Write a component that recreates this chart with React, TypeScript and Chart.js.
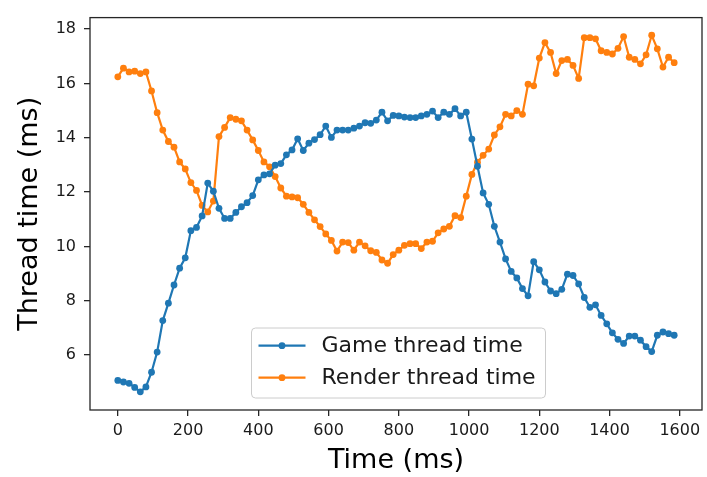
import React, { useEffect, useRef } from "react";
import { Chart, registerables } from "chart.js";

Chart.register(...registerables);

// ---- data ----
const timeMs = [
  0, 16, 32, 48, 64, 80, 96, 112, 128, 144,
  160, 176, 192, 208, 224, 240, 256, 272, 288, 304,
  320, 336, 352, 368, 384, 400, 416, 432, 448, 464,
  480, 496, 512, 528, 544, 560, 576, 592, 608, 624,
  640, 656, 672, 688, 704, 720, 736, 752, 768, 784,
  800, 816, 832, 848, 864, 880, 896, 912, 928, 944,
  960, 976, 992, 1008, 1024, 1040, 1056, 1072, 1088, 1104,
  1120, 1136, 1152, 1168, 1184, 1200, 1216, 1232, 1248, 1264,
  1280, 1296, 1312, 1328, 1344, 1360, 1376, 1392, 1408, 1424,
  1440, 1456, 1472, 1488, 1504, 1520, 1536, 1552, 1568, 1584,
];

const gameThread = [
  5.07, 5.01, 4.96, 4.81, 4.65, 4.83, 5.37, 6.11, 7.27, 7.91,
  8.58, 9.2, 9.58, 10.58, 10.7, 11.12, 12.33, 12.03, 11.4, 11.03,
  11.03, 11.25, 11.46, 11.61, 11.87, 12.45, 12.63, 12.67, 12.99, 13.05,
  13.37, 13.55, 13.96, 13.53, 13.8, 13.93, 14.11, 14.43, 14.01, 14.28,
  14.28, 14.28, 14.35, 14.43, 14.55, 14.53, 14.65, 14.94, 14.62, 14.82,
  14.8, 14.76, 14.74, 14.74, 14.8, 14.86, 14.98, 14.74, 14.94, 14.86,
  15.07, 14.8, 14.94, 13.95, 12.95, 11.97, 11.55, 10.74, 10.16, 9.54,
  9.08, 8.84, 8.45, 8.18, 9.44, 9.14, 8.69, 8.36, 8.26, 8.42,
  8.98, 8.93, 8.62, 8.12, 7.76, 7.85, 7.46, 7.15, 6.82, 6.58,
  6.43, 6.7, 6.7, 6.55, 6.31, 6.13, 6.73, 6.85, 6.79, 6.73,
];

const renderThread = [
  16.24, 16.56, 16.42, 16.45, 16.36, 16.42, 15.72, 14.92, 14.28, 13.86,
  13.65, 13.11, 12.85, 12.35, 12.06, 11.51, 11.27, 11.67, 14.04, 14.38,
  14.74, 14.68, 14.62, 14.28, 13.92, 13.53, 13.11, 12.93, 12.57, 12.15,
  11.85, 11.82, 11.79, 11.55, 11.25, 10.98, 10.73, 10.46, 10.22, 9.83,
  10.16, 10.14, 9.86, 10.16, 10.02, 9.84, 9.78, 9.5, 9.38, 9.7,
  9.86, 10.04, 10.1, 10.1, 9.92, 10.16, 10.19, 10.5, 10.64, 10.74,
  11.13, 11.06, 11.85, 12.65, 13.1, 13.35, 13.58, 14.1, 14.4, 14.86,
  14.8, 15.0, 14.86, 15.97, 15.91, 16.93, 17.5, 17.14, 16.36, 16.84,
  16.88, 16.66, 16.18, 17.68, 17.68, 17.64, 17.2, 17.14, 17.08, 17.29,
  17.72, 16.96, 16.88, 16.72, 17.05, 17.77, 17.27, 16.6, 16.96, 16.76,
];

const seriesNames = ["Game thread time", "Render thread time"];
const seriesColors = ["#1f77b4", "#ff7f0e"];
const xTicks = [0, 200, 400, 600, 800, 1000, 1200, 1400, 1600];
const yTicks = [6, 8, 10, 12, 14, 16, 18];
const xTitle = "Time (ms)";
const yTitle = "Thread time (ms)";

const FONT = "'DejaVu Sans', sans-serif";

const framePlugin = {
  id: "mplFrame",
  afterDatasetsDraw(chart: any) {
    const { ctx, chartArea } = chart;
    ctx.save();
    ctx.strokeStyle = "#262626";
    ctx.lineWidth = 1.3;
    ctx.strokeRect(chartArea.left, chartArea.top, chartArea.right - chartArea.left, chartArea.bottom - chartArea.top);
    ctx.restore();
  },
};

const legendPlugin = {
  id: "mplLegend",
  afterDraw(chart: any) {
    const { ctx, chartArea } = chart;
    const x0 = chartArea.left + 161.5;
    const y0 = chartArea.bottom - 82;
    const w = 294;
    const h = 70;
    ctx.save();
    ctx.beginPath();
    (ctx as any).roundRect(x0, y0, w, h, 4);
    ctx.fillStyle = "rgba(255,255,255,0.85)";
    ctx.fill();
    ctx.strokeStyle = "#cccccc";
    ctx.lineWidth = 1;
    ctx.stroke();
    chart.data.datasets.forEach((ds: any, k: number) => {
      const cy = y0 + 17.7 + k * 32;
      ctx.strokeStyle = ds.borderColor;
      ctx.lineWidth = 2.2;
      ctx.beginPath();
      ctx.moveTo(x0 + 7, cy);
      ctx.lineTo(x0 + 54, cy);
      ctx.stroke();
      ctx.fillStyle = ds.borderColor;
      ctx.beginPath();
      ctx.arc(x0 + 30.5, cy, 3.4, 0, Math.PI * 2);
      ctx.fill();
      ctx.fillStyle = "#1a1a1a";
      ctx.font = `22px ${FONT}`;
      ctx.textAlign = "left";
      ctx.textBaseline = "middle";
      ctx.fillText(ds.label, x0 + 70, cy + 1);
    });
    ctx.restore();
  },
};

export default function App() {
  const canvasRef = useRef<HTMLCanvasElement | null>(null);

  useEffect(() => {
    const canvas = canvasRef.current;
    if (!canvas) return;
    const mk = (vals: number[]) => vals.map((y, i) => ({ x: timeMs[i], y }));
    const chart = new Chart(canvas, {
      type: "line",
      data: {
        datasets: [gameThread, renderThread].map((vals, k) => ({
          label: seriesNames[k],
          data: mk(vals),
          borderColor: seriesColors[k],
          backgroundColor: seriesColors[k],
          pointBackgroundColor: seriesColors[k],
          pointBorderWidth: 0,
          pointRadius: 3.4,
          borderWidth: 2.2,
          tension: 0,
          fill: false,
        })),
      },
      options: {
        animation: false,
        responsive: false,
        maintainAspectRatio: false,
        events: [],
        layout: { padding: { left: 0, right: 5, top: 12, bottom: 0 } },
        plugins: { legend: { display: false }, tooltip: { enabled: false } },
        scales: {
          x: {
            type: "linear",
            min: -79.2,
            max: 1663.2,
            afterBuildTicks: (s: any) => {
              s.ticks = xTicks.map((v) => ({ value: v }));
            },
            afterFit: (s: any) => {
              s.height = 67;
            },
            ticks: {
              autoSkip: false,
              maxRotation: 0,
              color: "#1a1a1a",
              padding: 5,
              font: { family: FONT, size: 16 },
              callback: (v: any) => String(v),
            },
            grid: {
              drawOnChartArea: false,
              drawTicks: true,
              tickLength: 6,
              color: "#262626",
              lineWidth: 1.3,
            },
            border: { display: false },
            title: {
              display: true,
              text: xTitle,
              color: "#000",
              font: { family: FONT, size: 27 },
              padding: { top: 0, bottom: 0 },
            },
          },
          y: {
            type: "linear",
            min: 3.98,
            max: 18.42,
            afterBuildTicks: (s: any) => {
              s.ticks = yTicks.map((v) => ({ value: v }));
            },
            afterFit: (s: any) => {
              s.width = 90;
            },
            ticks: {
              autoSkip: false,
              color: "#1a1a1a",
              padding: 8,
              font: { family: FONT, size: 16 },
              callback: (v: any) => String(v),
            },
            grid: {
              drawOnChartArea: false,
              drawTicks: true,
              tickLength: 6,
              color: "#262626",
              lineWidth: 1.3,
            },
            border: { display: false },
            title: {
              display: true,
              text: yTitle,
              color: "#000",
              font: { family: FONT, size: 27 },
              padding: { top: 14, bottom: 0 },
            },
          },
        },
      },
      plugins: [framePlugin, legendPlugin],
    });
    return () => chart.destroy();
  }, []);

  return (
    <div style={{ position: "fixed", left: 0, top: 0, width: 707, height: 477, background: "#fff" }}>
      <canvas ref={canvasRef} width={707} height={477} style={{ width: 707, height: 477, display: "block" }} />
    </div>
  );
}
